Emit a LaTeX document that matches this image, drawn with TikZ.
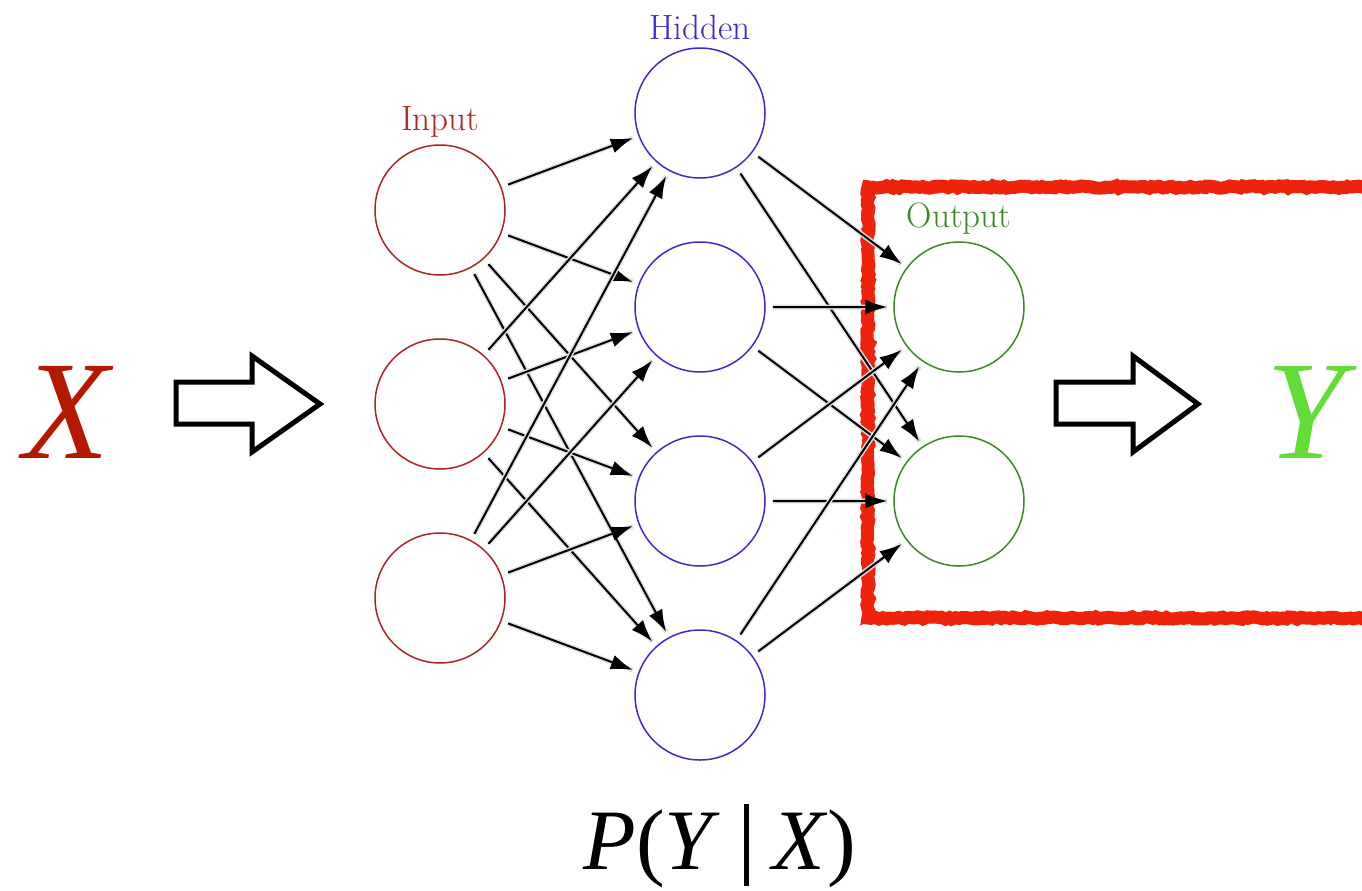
\documentclass[tikz,border=0pt]{standalone}
\usepackage{fontspec}
\newfontfamily\bigfont{Liberation Serif}
\usetikzlibrary{positioning,arrows.meta,decorations.pathmorphing}

\definecolor{inred}{RGB}{175,35,35}
\definecolor{hidblue}{RGB}{55,45,205}
\definecolor{outgreen}{RGB}{60,135,40}
\definecolor{xred}{RGB}{180,25,0}
\definecolor{ygreen}{RGB}{100,220,55}
\definecolor{boxred}{RGB}{238,35,12}

\begin{document}
\begin{tikzpicture}[
                    neuron/.style={circle, draw, line width=0.03cm, minimum size=2.6cm, inner sep=0pt},
                    input/.style={neuron, draw=inred},
                    hidden/.style={neuron, draw=hidblue},
                    output/.style={neuron, draw=outgreen},
                    layername/.style={font=\fontsize{20}{22}\selectfont, inner sep=1pt},
                    conn/.style={-{Latex[length=0.44cm,width=0.3cm]}, line width=0.04cm, shorten <=0.14cm, shorten >=0.12cm,
                                 preaction={draw=black!12, line width=0.1cm, -}},
                    bigvar/.style={font=\bigfont\itshape\fontsize{80}{80}\selectfont, anchor=base, inner sep=0pt},
                    blockarrow/.style={draw=black, line width=0.1cm, fill=white, line join=miter},
                    redbox/.style={draw=boxred, line width=0.26cm, decorate, decoration={random steps, segment length=2pt, amplitude=0.7pt}},
                ]
                \clip (0,0) rectangle (27.24,-17.8);
                \useasboundingbox (0,0) rectangle (27.24,-17.8);

                %Red box
                \draw[redbox] (27.6,-3.74) -- (17.36,-3.74) -- (17.36,-12.36) -- (27.6,-12.36);
                \draw[draw=boxred, line width=0.08cm, decorate, decoration={random steps, segment length=3pt, amplitude=1.4pt}]
                    (27.6,-3.68) -- (17.30,-3.68) -- (17.30,-12.42) -- (27.6,-12.42);

                %Nodes
                \node[input]  (i1) at (8.8,-4.2)     {};
                \node[input]  (i2) [below=1.25cm of i1] {};
                \node[input]  (i3) [below=1.25cm of i2] {};

                \node[hidden] (h1) at (14,-2.26)     {};
                \node[hidden] (h2) [below=1.25cm of h1] {};
                \node[hidden] (h3) [below=1.25cm of h2] {};
                \node[hidden] (h4) [below=1.25cm of h3] {};

                \node[output] (o1) at (19.18,-6.14)  {};
                \node[output] (o2) [below=1.25cm of o1] {};

                %Layer names
                \node[layername, text=inred]    (inlab)  [above=0.1cm of i1] {Input};
                \node[layername, text=hidblue]  (hidlab) [above=0.1cm of h1] {Hidden};
                \node[layername, text=outgreen] (outlab) [above=0.1cm of o1] {Output};

                %Connections
                \foreach \i in {1,2,3}
                    \foreach \j in {1,...,4}
                        \draw[conn] (i\i) -- (h\j);
                \foreach \j in {1,...,4}
                    \foreach \k in {1,2}
                        \draw[conn] (h\j) -- (o\k);

                %Variables
                \node[bigvar, text=xred]   (x) at (1.33,-9.16)  {X};
                \node[bigvar, text=ygreen] (y) at (26.12,-9.16) {Y};
                \node[font=\bigfont\fontsize{49}{50}\selectfont, anchor=base, inner sep=0pt] (pyx) at (14.4,-17.38)
                    {\textit{P}(\textit{Y}\;\rule[-0.2em]{0.05em}{0.95em}\;\textit{X})};

                %Block arrows
                \draw[blockarrow] (3.52,-7.64) -- (5.04,-7.64) -- (5.04,-7.12) -- (6.40,-8.08)
                    -- (5.04,-9.04) -- (5.04,-8.48) -- (3.52,-8.48) -- cycle;
                \draw[blockarrow] (21.12,-7.64) -- (22.66,-7.64) -- (22.66,-7.12) -- (23.96,-8.08)
                    -- (22.66,-9.04) -- (22.66,-8.48) -- (21.12,-8.48) -- cycle;
            \end{tikzpicture}
\end{document}
